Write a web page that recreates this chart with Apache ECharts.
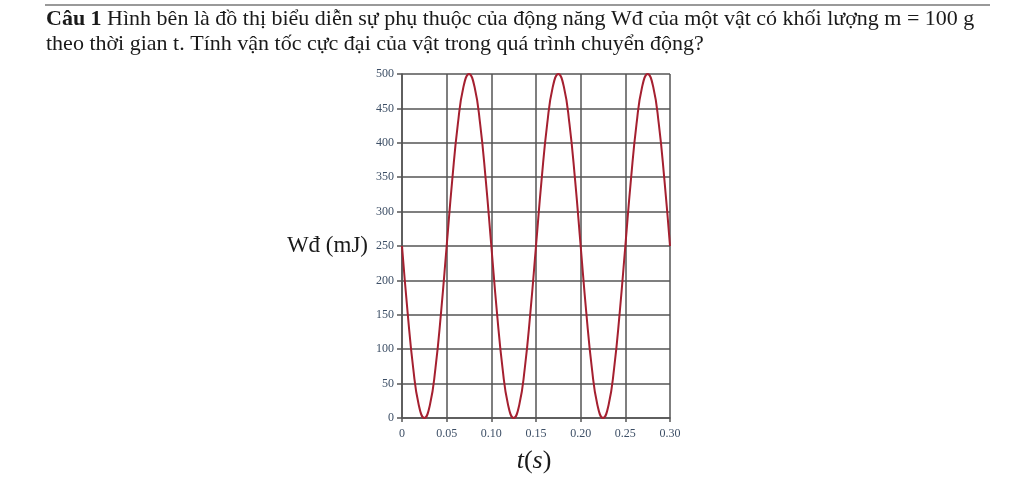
<!DOCTYPE html>
<html>
<head>
<meta charset="utf-8">
<script src="https://cdn.jsdelivr.net/npm/echarts@6/dist/echarts.min.js"></script>
<style>
html,body{margin:0;padding:0;background:#fff;}
#c{width:1024px;height:481px;}
</style>
</head>
<body>
<div id="c"></div>
<script>
// time (s) and kinetic energy (mJ)
var times = [0,0.00625,0.0125,0.01875,0.025,0.03125,0.0375,0.04375,0.05,0.05625,0.0625,0.06875,0.075,0.08125,0.0875,0.09375,
  0.1,0.10625,0.1125,0.11875,0.125,0.13125,0.1375,0.14375,0.15,0.15625,0.1625,0.16875,0.175,0.18125,0.1875,0.19375,
  0.2,0.20625,0.2125,0.21875,0.225,0.23125,0.2375,0.24375,0.25,0.25625,0.2625,0.26875,0.275,0.28125,0.2875,0.29375,0.3];
var energy = [250,154,73,19,0,19,73,154,250,346,427,481,500,481,427,346,
  250,154,73,19,0,19,73,154,250,346,427,481,500,481,427,346,
  250,154,73,19,0,19,73,154,250,346,427,481,500,481,427,346,250];
var xTicks = {min:0, max:0.30, step:0.05};
var yTicks = {min:0, max:500, step:50};
var line1Bold = 'Câu 1';
var line1 = ' Hình bên là đồ thị biểu diễn sự phụ thuộc của động năng Wđ của một vật có khối lượng m = 100 g';
var line2 = 'theo thời gian t. Tính vận tốc cực đại của vật trong quá trình chuyển động?';
var yName = 'Wđ (mJ)';

var pts = times.map(function(t,i){return [t, energy[i]];});
var chart = echarts.init(document.getElementById('c'));
var serif = '"Liberation Serif","DejaVu Serif",serif';
var gridCol = '#555';
chart.setOption({
  animation:false,
  backgroundColor:'#fff',
  grid:{left:402,right:354,top:74,bottom:63,containLabel:false},
  xAxis:{type:'value',min:xTicks.min,max:xTicks.max,interval:xTicks.step,
    axisLine:{show:true,onZero:false,lineStyle:{color:gridCol,width:1.5}},
    axisTick:{show:true,length:4,lineStyle:{color:gridCol,width:1.5}},
    splitLine:{show:true,lineStyle:{color:gridCol,width:1.5}},
    axisLabel:{margin:10,fontSize:12,color:'#3d4f66',fontFamily:serif,
      formatter:function(v){return v===0?'0':v.toFixed(2);}}},
  yAxis:{type:'value',min:yTicks.min,max:yTicks.max,interval:yTicks.step,
    axisLine:{show:true,lineStyle:{color:gridCol,width:1.5}},
    axisTick:{show:true,length:5,lineStyle:{color:gridCol,width:1.5}},
    splitLine:{show:true,lineStyle:{color:gridCol,width:1.5}},
    axisLabel:{margin:8,fontSize:12,color:'#3d4f66',fontFamily:serif}},
  series:[{type:'line',data:pts,smooth:true,showSymbol:false,clip:false,
    lineStyle:{color:'#a52030',width:2}}],
  graphic:[
    {type:'line',shape:{x1:45,y1:5,x2:990,y2:5},style:{stroke:'#999',lineWidth:2}},
    {type:'text',left:46,top:8,style:{
      text:'{b|'+line1Bold+'}'+line1,
      font:'22px '+serif,fill:'#1a1a1a',
      rich:{b:{fontWeight:'bold',fontSize:22,fontFamily:serif,fill:'#1a1a1a'}}}},
    {type:'text',left:46,top:33,style:{text:line2,font:'22px '+serif,fill:'#1a1a1a'}},
    {type:'text',x:368,y:246,style:{text:yName,font:'23px '+serif,fill:'#1a1a1a',align:'right',verticalAlign:'middle'}},
    {type:'text',x:534,y:461,style:{text:'{i|t}({i|s})',font:'26px '+serif,fill:'#1a1a1a',align:'center',verticalAlign:'middle',
      rich:{i:{fontStyle:'italic',fontSize:26,fontFamily:serif,fill:'#1a1a1a'}}}}
  ]
});
</script>
</body>
</html>
